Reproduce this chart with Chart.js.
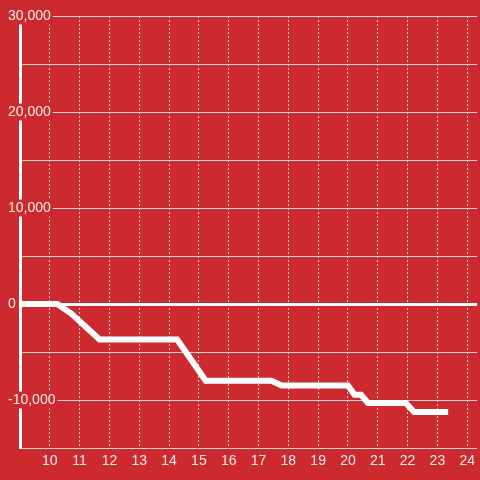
<!DOCTYPE html>
<html lang="en">
<head>
    <meta charset="UTF-8">
    <title>Line chart</title>
    <script src="https://cdn.jsdelivr.net/npm/chart.js"></script>
    <style>
        html, body {
            margin: 0;
            padding: 0;
            background: #cc2a2e;
        }
        .chart-container {
            width: 480px;
            height: 480px;
        }
    </style>
</head>
<body>
    <div class="chart-container">
        <canvas id="myChart"></canvas>
    </div>

    <script>
        // hours of the day and the running value
        const hours = [8.8, 10.25, 10.72, 11.67, 14.27, 15.23, 17.43, 17.78, 20.0, 20.22, 20.44, 20.67, 21.94, 22.22, 23.36];
        const values = [0, 0, -1000, -3700, -3700, -8000, -8000, -8500, -8500, -9450, -9450, -10300, -10300, -11250, -11250];

        const xTicks = [10, 11, 12, 13, 14, 15, 16, 17, 18, 19, 20, 21, 22, 23, 24];
        const yTicks = [-15000, -10000, -5000, 0, 5000, 10000, 15000, 20000, 25000, 30000];

        const bg = "#cc2a2e";
        const gridColor = "#d6d2d2";
        const textColor = "#f5ecec";

        Chart.defaults.font.family = "'Liberation Sans', Arial, sans-serif";
        Chart.defaults.font.size = 14;

        const points = [];
        for (let i = 0; i < hours.length; i++) {
            points.push({ x: hours[i], y: values[i] });
        }

        const ctx = document.getElementById("myChart").getContext("2d");
        new Chart(ctx, {
            type: "line",
            data: {
                datasets: [{
                    data: points,
                    borderColor: "#ffffff",
                    borderWidth: 6,
                    pointRadius: 0,
                    tension: 0,
                    fill: false
                }]
            },
            options: {
                responsive: true,
                maintainAspectRatio: false,
                animation: false,
                layout: {
                    padding: { top: 16, right: 0, bottom: 0, left: 0 }
                },
                plugins: {
                    legend: { display: false },
                    tooltip: { enabled: false }
                },
                scales: {
                    x: {
                        type: "linear",
                        min: 9,
                        max: 24.333,
                        afterBuildTicks: function(scale) {
                            scale.ticks = xTicks.map(v => ({ value: v }));
                        },
                        afterFit: function(scale) {
                            scale.height = 32;
                        },
                        grid: {
                            color: gridColor,
                            lineWidth: 1,
                            drawTicks: false
                        },
                        border: {
                            display: false,
                            dash: [2, 2]
                        },
                        ticks: {
                            color: textColor,
                            padding: 5,
                            maxRotation: 0,
                            autoSkip: false
                        }
                    },
                    y: {
                        min: -15000,
                        max: 30000,
                        afterBuildTicks: function(scale) {
                            scale.ticks = yTicks.map(v => ({ value: v }));
                        },
                        afterFit: function(scale) {
                            scale.width = 20;
                        },
                        grid: {
                            color: function(c) {
                                return c.tick && c.tick.value === 0 ? "#ffffff" : gridColor;
                            },
                            lineWidth: function(c) {
                                return c.tick && c.tick.value === 0 ? 3 : 1;
                            },
                            drawTicks: false
                        },
                        border: {
                            color: "#ffffff",
                            width: 3
                        },
                        ticks: {
                            color: textColor,
                            mirror: true,
                            padding: -12,
                            crossAlign: "near",
                            showLabelBackdrop: true,
                            backdropColor: bg,
                            backdropPadding: { x: 2, y: 0 },
                            callback: function(value) {
                                return value % 10000 === 0 ? value.toLocaleString("en-US") : "";
                            }
                        }
                    }
                }
            }
        });
    </script>
</body>
</html>
